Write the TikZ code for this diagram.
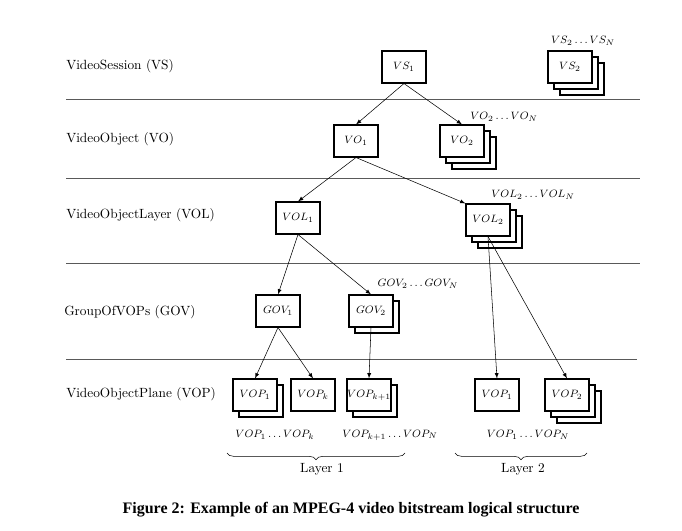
\documentclass[tikz,border=0pt]{standalone}
\usepackage{fontspec}
\newfontfamily\capfont{Liberation Serif}
\usetikzlibrary{shadows,decorations.pathreplacing}
\begin{document}
\begin{tikzpicture}[x=0.75pt,y=-0.75pt,
	vbox/.style={draw,thick,fill=white,minimum width=33pt,minimum height=24pt,inner sep=1pt,font=\footnotesize},
	stackone/.style={vbox,copy shadow={shadow xshift=4.5pt,shadow yshift=-4.5pt,draw,thick,fill=white}},
	stacktwo/.style={vbox,copy shadow={shadow xshift=9pt,shadow yshift=-9pt,draw,thick,fill=white},
		copy shadow={shadow xshift=4.5pt,shadow yshift=-4.5pt,draw,thick,fill=white}},
	rng/.style={font=\footnotesize},
	level/.style={anchor=west,inner sep=0pt},
	sep/.style={draw=black!65,line width=0.7pt},
	arr/.style={-latex,thin},
	brc/.style={decorate,decoration={brace,mirror,amplitude=5pt}}]
	\useasboundingbox (0,0) rectangle (682,531);

	\node[level] (lvs) at (66,66) {VideoSession (VS)};
	\node[level] (lvo) at (66,139) {VideoObject (VO)};
	\node[level] (lvol) at (66,215) {VideoObjectLayer (VOL)};
	\node[level] (lgov) at (64,312) {GroupOfVOPs (GOV)};
	\node[level] (lvop) at (66,394) {VideoObjectPlane (VOP)};

	\draw[sep] (66,99) -- (640,99);
	\draw[sep] (66,178) -- (640,178);
	\draw[sep] (66,263) -- (640,263);
	\draw[sep] (66,359) -- (637,359);

	\node[vbox] (vs1) at (404,67) {$VS_1$};
	\node[stacktwo] (vs2) at (570,67) {$VS_2$};
	\node[rng] (vsn) at (583,41) {$VS_2 \ldots VS_N$};

	\node[vbox] (vo1) at (356,141) {$VO_1$};
	\node[stacktwo] (vo2) at (462,141) {$VO_2$};
	\node[rng] (von) at (504,117) {$VO_2 \ldots VO_N$};

	\node[vbox] (vol1) at (298,218) {$VOL_1$};
	\node[stacktwo] (vol2) at (488,220) {$VOL_2$};
	\node[rng] (voln) at (533,195) {$VOL_2 \ldots VOL_N$};

	\node[vbox] (gov1) at (278,311) {$GOV_1$};
	\node[stackone] (gov2) at (371,311) {$GOV_2$};
	\node[rng] (govn) at (418,284) {$GOV_2 \ldots GOV_N$};

	\node[stackone] (vop1) at (255,395) {$VOP_1$};
	\node[vbox] (vopk) at (313,395) {$VOP_k$};
	\node[stackone] (vopk1) at (369,395) {\makebox[24pt]{$VOP_{k+1}$}};
	\node[vbox] (vopa) at (497,395) {$VOP_1$};
	\node[stacktwo] (vopb) at (567,395) {$VOP_2$};

	\node[rng] (vopsa) at (275,435) {$VOP_1 \ldots VOP_k$};
	\node[rng] (vopsb) at (390,435) {$VOP_{k+1} \ldots VOP_N$};
	\node[rng] (vopsc) at (528,435) {$VOP_1 \ldots VOP_N$};

	\draw[arr] (vs1.south) -- (vo1.north);
	\draw[arr] (vs1.south) -- (vo2.north);
	\draw[arr] (vo1.south) -- (vol1.north);
	\draw[arr] (vo1.south) -- (vol2.north west);
	\draw[arr] (vol1.south) -- (gov1.north);
	\draw[arr] (vol1.south) -- (gov2.north);
	\draw[arr] (vol2.south) -- (vopa.north);
	\draw[arr] (vol2.south) -- (vopb.north);
	\draw[arr] (gov1.south) -- (vop1.north);
	\draw[arr] (gov1.south) -- (vopk.north);
	\draw[arr] (gov2.south) -- (vopk1.north);

	\coordinate (b1a) at (227,453);
	\coordinate (b1b) at (405,453);
	\coordinate (b2a) at (455,453);
	\coordinate (b2b) at (587,453);
	\draw[brc] (b1a) -- (b1b);
	\draw[brc] (b2a) -- (b2b);
	\node (lay1) at (322,469) {Layer 1};
	\node (lay2) at (523,469) {Layer 2};

	\node[font=\capfont\bfseries\fontsize{12}{14}\selectfont] (cap) at (351,510) {Figure 2: Example of an MPEG-4 video bitstream logical structure};
\end{tikzpicture}
\end{document}
